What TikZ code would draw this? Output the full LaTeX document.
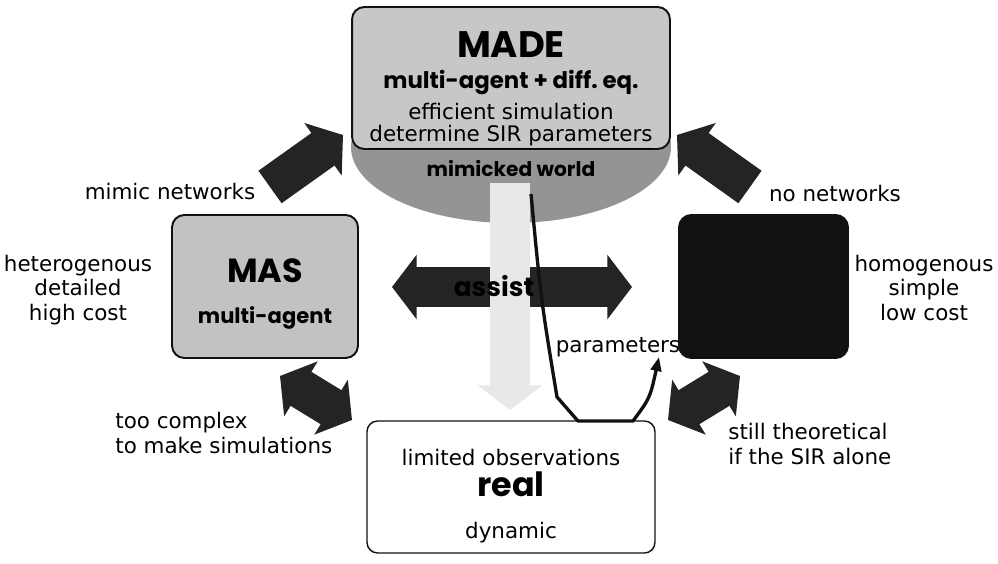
\documentclass[tikz,border=0pt]{standalone}
\usepackage{fontspec}
\setmainfont{DejaVu Sans}
\newfontfamily\headfont{Poppins}
\usetikzlibrary{arrows.meta,positioning,shapes.geometric}
\definecolor{ink}{HTML}{111111}
\definecolor{madefill}{gray}{0.78}
\definecolor{worldfill}{gray}{0.58}
\definecolor{masfill}{gray}{0.76}
\definecolor{shade}{gray}{0.14}
\definecolor{pale}{gray}{0.91}

\begin{document}
\begin{tikzpicture}[x=0.02cm, y=-0.02cm,
  font=\fontsize{12.2}{13.8}\selectfont,
  box/.style={draw=ink, line width=1.1pt, rounded corners=7pt, inner sep=0pt, outer sep=0pt},
  head/.style={font=\headfont\bfseries\fontsize{#1}{#1}\selectfont, inner sep=0pt, anchor=base},
  txt/.style={inner sep=0pt, anchor=base},
  note/.style={inner sep=0pt, align=center},
  fat/.style={line width=22.7pt, draw=shade, -{Triangle[width=36pt, length=14pt]}},
  fatboth/.style={fat, {Triangle[width=36pt, length=14pt]}-{Triangle[width=36pt, length=14pt]}},
  feed/.style={draw=ink, line width=1.9pt, line join=round, -{Triangle[width=6pt, length=8pt]}}]
  \useasboundingbox (0,0) rectangle (998,564);
  % model on top
  \node[ellipse, fill=worldfill, minimum width=6.4cm, minimum height=3.04cm] (world) at (511,147) {};
  \node[box, fill=madefill, minimum width=6.36cm, minimum height=2.84cm] (made) at (511,78) {};
  \node[head=21] (madeT) at (511,58) {MADE};
  \node[head=13] (madeSub) at (511,89) {multi-agent + diff.\ eq.};
  \node[txt] (madeEff) at (511,120) {efficient simulation};
  \node[txt] (madeSIR) at (511,141.5) {\underline{determine SIR parameters}};
  \node[head=11.5] (worldT) at (511,176.5) {mimicked world};
  % side boxes
  \node[box, fill=masfill, minimum width=3.72cm, minimum height=2.86cm] (mas) at (265,286.5) {};
  \node[head=19] (masT) at (265,283) {MAS};
  \node[head=12] (masSub) at (265,324) {multi-agent};
  \node[box, fill=ink, minimum width=3.38cm, minimum height=2.86cm] (de) at (763.5,286.5) {};
  \node[box, fill=white, line width=0.8pt, rounded corners=6pt, minimum width=5.76cm, minimum height=2.64cm] (real) at (511,487) {};
  \node[txt] (realObs) at (511,465) {limited observations};
  \node[head=19] (realT) at (511,496.5) {real};
  \node[txt] (realDyn) at (511,538) {dynamic};
  % fat arrows
  \coordinate (mimicTail) at (270,187);
  \coordinate (mimicTip) at (343,135);
  \coordinate (noTail) at (750,187);
  \coordinate (noTip) at (677,135);
  \coordinate (assistL) at (392,287);
  \coordinate (assistR) at (632,287);
  \coordinate (worldOut) at (510,183);
  \coordinate (worldIn) at (510,410);
  \coordinate (masLow) at (280,376);
  \coordinate (realLeft) at (352,420);
  \coordinate (deLow) at (740,376);
  \coordinate (realRight) at (668,420);
  \draw[fat] (mimicTail) -- (mimicTip);
  \draw[fat] (noTail) -- (noTip);
  \draw[fatboth] (assistL) -- (assistR);
  \draw[fat, draw=pale] (worldOut) -- (worldIn);
  \node[head=15] (assistT) at (494,296.5) {assist};
  \draw[fatboth] (masLow) -- (realLeft);
  \draw[fatboth] (deLow) -- (realRight);
  % parameter feedback
  \node[txt] (params) at (618,353) {parameters};
  \coordinate (feedTop) at (531,194);
  \coordinate (feedIn) at (578,0 |- real.north);
  \coordinate (feedOut) at (633,0 |- real.north);
  \coordinate (paramTip) at (659,357);
  \draw[feed] (feedTop) .. controls (541,300) .. (557,397) -- (feedIn) -- (feedOut) .. controls (650,398) .. (paramTip);
  % side notes
  \node[txt] (mimic) at (170,200) {mimic networks};
  \node[txt] (nonet) at (835,201.5) {no networks};
  \node[note] (hetero) at (78,290) {heterogenous\\detailed\\high cost};
  \node[note] (homo) at (924,288) {homogenous\\simple\\low cost};
  \node[note, align=left, anchor=west] (complex) at (115,433) {too complex\\to make simulations};
  \node[note, align=left, anchor=west, font=\fontsize{12.2}{14.4}\selectfont] (theory) at (728,444) {still theoretical\\if the SIR alone};
\end{tikzpicture}
\end{document}
